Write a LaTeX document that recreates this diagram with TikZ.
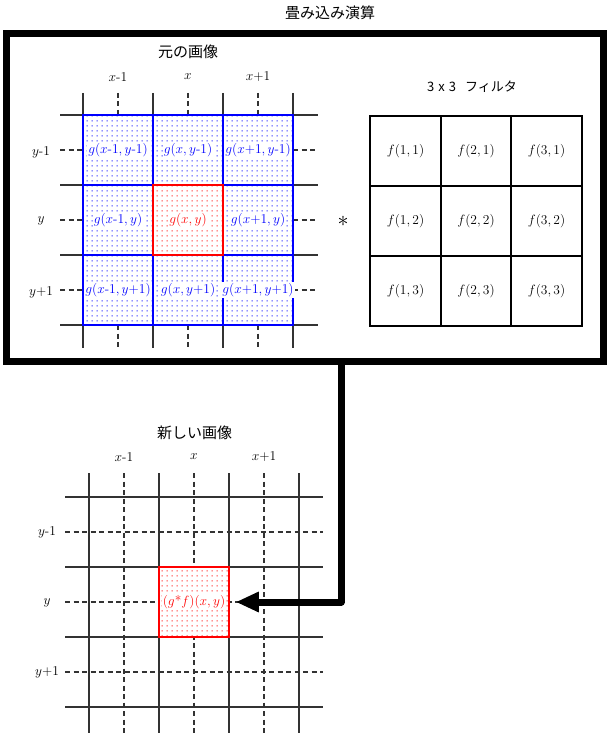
\RequirePackage{fix-cm}
\documentclass[tikz,border=0pt]{standalone}
\usepackage{fontspec}
\newfontfamily\jp{Noto Sans CJK JP}
\usetikzlibrary{patterns,arrows.meta}
\pgfdeclarepatternformonly{celldots}{\pgfpointorigin}{\pgfpoint{5pt}{5pt}}{\pgfpoint{5pt}{5pt}}{%
  \pgfpathrectangle{\pgfpoint{1.9pt}{1.9pt}}{\pgfpoint{1.2pt}{1.2pt}}\pgfusepath{fill}}
\definecolor{gridc}{HTML}{333333}
\definecolor{myblue}{HTML}{0000FF}
\definecolor{myred}{HTML}{FF0000}
\begin{document}
\begin{tikzpicture}[x=1pt,y=-1pt,
  gl/.style={draw=gridc, line width=1.4pt},
  dl/.style={gl, dash pattern=on 5pt off 3.5pt},
  lab/.style={font=\fontsize{13.5}{16}\selectfont, inner sep=1pt},
  jlab/.style={font=\jp\fontsize{15}{18}\selectfont, inner sep=0pt},
  cellbase/.style={minimum width=70pt, minimum height=70pt, inner sep=0pt, preaction={fill=white}},
  bcell/.style={cellbase, draw=myblue, line width=1.8pt, pattern=celldots, pattern color=myblue},
  rcell/.style={cellbase, draw=myred, line width=1.5pt, pattern=celldots, pattern color=myred},
  btext/.style={lab, text=myblue, fill=white},
  rtext/.style={lab, text=myred, fill=white},
  fcell/.style={lab, draw=black, line width=1.4pt, minimum width=70.7pt, minimum height=70pt, inner sep=0pt},
  frame/.style={draw=black, line width=7pt, minimum width=597pt, minimum height=328pt, inner sep=0pt}
]
\useasboundingbox (0,0) rectangle (608,733);

% title
\node[jlab] (title) at (330,12.5) {畳み込み演算};
% outer frame
\node[frame] (frame) at (305,197.5) {};

% ---- original image ----
\node[jlab] (orig) at (188,52) {元の画像};
\foreach \x in {83,153,223,293} \draw[gl] (\x,93) -- (\x,348);
\foreach \y in {115,185,255,325} \draw[gl] (60,\y) -- (318,\y);
\foreach \x in {118,188,258} {\draw[dl] (\x,93) -- (\x,115); \draw[dl] (\x,325) -- (\x,348);}
\foreach \y in {150,220,290} {\draw[dl] (60,\y) -- (83,\y); \draw[dl] (293,\y) -- (318,\y);}

\node[lab] (ox1) at (118,77) {$x$-1};
\node[lab] (ox2) at (188,77) {$x$};
\node[lab] (ox3) at (258,77) {$x$+1};
\node[lab] (oy1) at (41,152) {$y$-1};
\node[lab] (oy2) at (41,221) {$y$};
\node[lab] (oy3) at (41,292) {$y$+1};

\node[bcell] (g11) at (118,150) {};
\node[bcell] (g21) at (188,150) {};
\node[bcell] (g31) at (258,150) {};
\node[bcell] (g12) at (118,220) {};
\node[bcell] (g32) at (258,220) {};
\node[bcell] (g13) at (118,290) {};
\node[bcell] (g23) at (188,290) {};
\node[bcell] (g33) at (258,290) {};
\node[rcell] (g22) at (188,220) {};

\node[btext] (t11) at (g11) {$g(x$-$1,y$-$1)$};
\node[btext] (t21) at (g21) {$g(x,y$-$1)$};
\node[btext] (t31) at (g31) {$g(x$+$1,y$-$1)$};
\node[btext] (t12) at (g12) {$g(x$-$1,y)$};
\node[rtext] (t22) at (g22) {$g(x,y)$};
\node[btext] (t32) at (g32) {$g(x$+$1,y)$};
\node[btext] (t13) at (g13) {$g(x$-$1,y$+$1)$};
\node[btext] (t23) at (g23) {$g(x,y$+$1)$};
\node[btext] (t33) at (g33) {$g(x$+$1,y$+$1)$};

% asterisk
\node[lab, font=\fontsize{22}{24}\selectfont] (star) at (343,221) {$\ast$};

% ---- filter ----
\node[jlab, font=\jp\fontsize{13}{16}\selectfont] (ftitle) at (472,87) {3\kern4pt x\kern4pt 3\hspace{9pt}フィルタ};
\node[fcell] (f11) at (405.5,151) {$f(1,1)$};
\node[fcell] (f21) at (476,151) {$f(2,1)$};
\node[fcell] (f31) at (546.5,151) {$f(3,1)$};
\node[fcell] (f12) at (405.5,221) {$f(1,2)$};
\node[fcell] (f22) at (476,221) {$f(2,2)$};
\node[fcell] (f32) at (546.5,221) {$f(3,2)$};
\node[fcell] (f13) at (405.5,291) {$f(1,3)$};
\node[fcell] (f23) at (476,291) {$f(2,3)$};
\node[fcell] (f33) at (546.5,291) {$f(3,3)$};

% ---- new image ----
\node[jlab] (newt) at (194.5,433) {新しい画像};
\foreach \x in {89,159,229,299} \draw[gl] (\x,473) -- (\x,733);
\foreach \y in {497,567,637,707} \draw[gl] (65,\y) -- (323,\y);
\foreach \x in {124,194,264} \draw[dl] (\x,473) -- (\x,733);
\foreach \y in {532,602,672} \draw[dl] (65,\y) -- (323,\y);

\node[lab] (nx1) at (124,457) {$x$-1};
\node[lab] (nx2) at (194,457) {$x$};
\node[lab] (nx3) at (264,457) {$x$+1};
\node[lab] (ny1) at (47,532) {$y$-1};
\node[lab] (ny2) at (47,603) {$y$};
\node[lab] (ny3) at (47,672) {$y$+1};

\node[rcell] (res) at (194,602) {};
\node[rtext] (rest) at (res) {$(g$*$f)(x,y)$};

% arrow
\coordinate (stem) at (341,361.5);
\draw[line width=7pt, line join=round, -{Triangle[length=23pt,width=19pt]}] (stem) |- ([xshift=6pt]res.east);
\end{tikzpicture}
\end{document}
